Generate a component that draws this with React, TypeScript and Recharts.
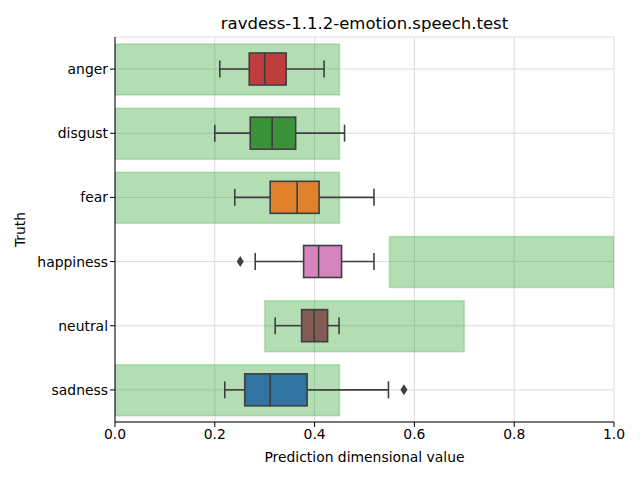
import React from 'react';
import {
  ComposedChart,
  Bar,
  XAxis,
  YAxis,
  CartesianGrid,
  Customized,
} from 'recharts';

if (typeof document !== 'undefined') document.body.style.margin = '0';

const categories = ['anger', 'disgust', 'fear', 'happiness', 'neutral', 'sadness'];
// expected (green) ranges per truth class
const rangeLow = [0, 0, 0, 0.55, 0.3, 0];
const rangeHigh = [0.45, 0.45, 0.45, 1.0, 0.7, 0.45];
// box plot statistics
const whiskerLow = [0.21, 0.2, 0.24, 0.281, 0.321, 0.22];
const q1 = [0.269, 0.271, 0.311, 0.378, 0.374, 0.26];
const median = [0.3, 0.315, 0.365, 0.408, 0.399, 0.311];
const q3 = [0.343, 0.362, 0.409, 0.454, 0.426, 0.385];
const whiskerHigh = [0.419, 0.46, 0.519, 0.519, 0.449, 0.548];
const outliers = [[], [], [], [0.251], [], [0.579]];
const xTicks = [0, 0.2, 0.4, 0.6, 0.8, 1.0];

const boxColors = ['#c03d3e', '#3a923a', '#e1812c', '#d684bd', '#845b53', '#3274a1'];

const data = categories.map((name, i) => ({
  name,
  range: [rangeLow[i], rangeHigh[i]],
  whisk: [whiskerLow[i], whiskerHigh[i]],
  q1: q1[i],
  median: median[i],
  q3: q3[i],
  outliers: outliers[i],
  idx: i,
}));

const FONT = 'DejaVu Sans';
const LINE = '#3f3f3f';

const BoxShape = (props: any) => {
  const { x, y, width, height, payload } = props;
  const [lo, hi] = payload.whisk;
  const toPx = (v: number) => x + ((v - lo) / (hi - lo)) * width;
  const cy = y + height / 2;
  const bh = 32;
  const cap = 8.5;
  const xq1 = toPx(payload.q1);
  const xq3 = toPx(payload.q3);
  const xm = toPx(payload.median);
  return (
    <g>
      <line x1={x} y1={cy} x2={xq1} y2={cy} stroke={LINE} strokeWidth={1.6} />
      <line x1={xq3} y1={cy} x2={x + width} y2={cy} stroke={LINE} strokeWidth={1.6} />
      <line x1={x} y1={cy - cap} x2={x} y2={cy + cap} stroke={LINE} strokeWidth={1.6} />
      <line x1={x + width} y1={cy - cap} x2={x + width} y2={cy + cap} stroke={LINE} strokeWidth={1.6} />
      <rect x={xq1} y={cy - bh / 2} width={xq3 - xq1} height={bh} fill={boxColors[payload.idx]} stroke={LINE} strokeWidth={1.6} />
      <line x1={xm} y1={cy - bh / 2} x2={xm} y2={cy + bh / 2} stroke={LINE} strokeWidth={1.6} />
      {payload.outliers.map((o: number, k: number) => {
        const ox = toPx(o);
        return (
          <path key={k} d={`M${ox},${cy - 5.5}L${ox + 3.5},${cy}L${ox},${cy + 5.5}L${ox - 3.5},${cy}Z`} fill={LINE} />
        );
      })}
    </g>
  );
};

const Labels = () => (
  <g fontFamily={FONT} fill="#000">
    <text x={364.5} y={29} textAnchor="middle" fontSize={16.5}>
      ravdess-1.1.2-emotion.speech.test
    </text>
    <text x={364.5} y={462} textAnchor="middle" fontSize={13.9}>
      Prediction dimensional value
    </text>
    <text x={25} y={229.5} textAnchor="middle" fontSize={13.9} transform="rotate(-90 25 229.5)">
      Truth
    </text>
  </g>
);

export default function App() {
  return (
    <div style={{ width: 640, height: 480, background: '#fff' }}>
      <ComposedChart
        width={640}
        height={480}
        data={data}
        layout="vertical"
        margin={{ top: 37, right: 26, bottom: 0, left: 0 }}
      >
        <CartesianGrid yAxisId="a" stroke="#dcdcdc" strokeWidth={1} />
        <XAxis
          type="number"
          domain={[0, 1]}
          ticks={xTicks}
          tickFormatter={(v: number) => v.toFixed(1)}
          height={58}
          axisLine={{ stroke: '#000', strokeWidth: 1 }}
          tickLine={{ stroke: '#000' }}
          tickSize={5}
          tick={{ fill: '#000', fontSize: 13.9, fontFamily: FONT }}
          allowDataOverflow
        />
        <YAxis
          yAxisId="a"
          type="category"
          dataKey="name"
          width={115}
          axisLine={{ stroke: '#000', strokeWidth: 1 }}
          tickLine={{ stroke: '#000' }}
          tickSize={5}
          tick={{ fill: '#000', fontSize: 13.9, fontFamily: FONT }}
        />
        <YAxis yAxisId="b" type="category" dataKey="name" hide />
        <Bar
          yAxisId="a"
          dataKey="range"
          barSize={51}
          fill="#2ca02c"
          fillOpacity={0.36}
          stroke="#2ca02c"
          strokeOpacity={0.25}
          strokeWidth={1.5}
          isAnimationActive={false}
        />
        <Bar
          yAxisId="b"
          dataKey="whisk"
          barSize={32}
          shape={<BoxShape />}
          isAnimationActive={false}
        />
        <Customized component={Labels} />
      </ComposedChart>
    </div>
  );
}
